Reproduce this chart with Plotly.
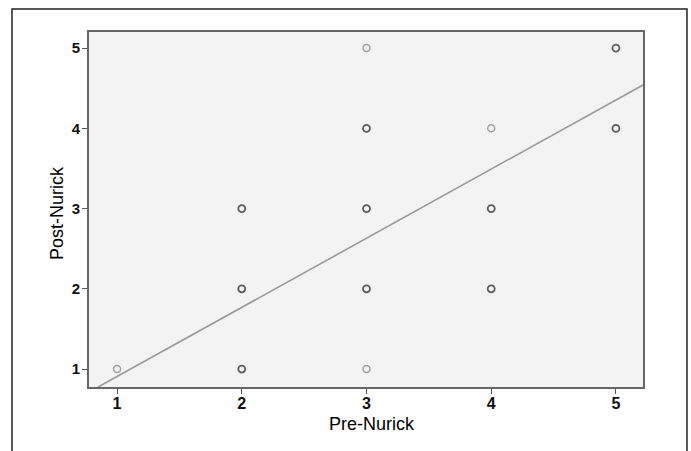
import plotly.graph_objects as go

# Observed (pre, post) score pairs; "multi" = darker markers (overlapping cases)
single_pre = [1, 3, 3, 4]
single_post = [1, 1, 5, 4]
multi_pre = [2, 2, 2, 3, 3, 3, 4, 4, 5, 5]
multi_post = [1, 2, 3, 2, 3, 4, 2, 3, 4, 5]

# Fit line
fit_slope = 0.8615
fit_intercept = 0.0455

x_range = [0.775, 5.217]
y_range = [0.776, 5.2]
ticks = [1, 2, 3, 4, 5]
x_title = "Pre-Nurick"
y_title = "Post-Nurick"

FONT = "Liberation Sans, Arial, sans-serif"

fig = go.Figure()

line_x = [(y_range[0] - fit_intercept) / fit_slope, x_range[1]]
line_y = [fit_intercept + fit_slope * v for v in line_x]
fig.add_trace(go.Scatter(x=line_x, y=line_y, mode="lines",
                         line=dict(color="#9a9a9a", width=1.6),
                         hoverinfo="skip", showlegend=False))

fig.add_trace(go.Scatter(x=single_pre, y=single_post, mode="markers",
                         marker=dict(symbol="circle-open", size=7, color="#a0a0a0",
                                     line=dict(width=1.5)),
                         showlegend=False))
fig.add_trace(go.Scatter(x=multi_pre, y=multi_post, mode="markers",
                         marker=dict(symbol="circle-open", size=7, color="#5e5e5e",
                                     line=dict(width=1.8)),
                         showlegend=False))

axis_common = dict(
    tickvals=ticks, ticktext=["<b>%d</b>" % t for t in ticks],
    ticks="outside", ticklen=5, tickwidth=1, tickcolor="#555",
    showgrid=False, zeroline=False,
    showline=True, linecolor="#666", linewidth=2, mirror=True,
)

fig.update_xaxes(range=x_range, tickfont=dict(family=FONT, size=16, color="#111"),
                 ticklabelstandoff=-4, **axis_common)
fig.update_yaxes(range=y_range, tickfont=dict(family=FONT, size=15, color="#111"),
                 ticklabelstandoff=-1, **axis_common)

fig.add_annotation(text=x_title, xref="paper", yref="paper", x=0.511, y=-0.1042,
                   xanchor="center", yanchor="middle", showarrow=False,
                   font=dict(family=FONT, size=18, color="#000"))
fig.add_annotation(text=y_title, xref="paper", yref="paper", x=-0.0578, y=0.49,
                   xanchor="center", yanchor="middle", showarrow=False, textangle=-90,
                   font=dict(family=FONT, size=18, color="#000"))

# Outer frame around the figure
fig.add_shape(type="rect", xref="paper", yref="paper",
              x0=-0.139, x1=1.0794, y0=-0.2, y1=1.0648,
              line=dict(color="#222", width=1.5), fillcolor="rgba(0,0,0,0)",
              layer="below")

fig.update_layout(
    width=691, height=451,
    margin=dict(l=89, r=48, t=32, b=64),
    paper_bgcolor="white", plot_bgcolor="#f3f3f3",
    showlegend=False,
)

fig.write_html("out.html", config={"displayModeBar": False},
               post_script="document.body.style.margin='0px';")
